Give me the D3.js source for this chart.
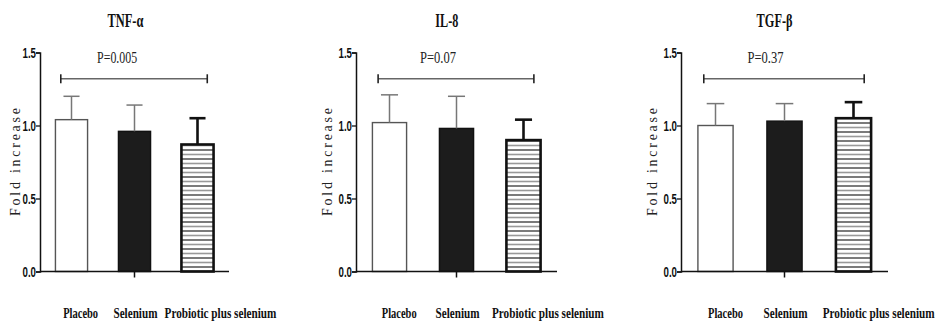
<!DOCTYPE html>
<html>
<head>
<meta charset="utf-8">
<script src="https://cdn.jsdelivr.net/npm/d3@7"></script>
<style>
  body { margin: 0; background: #fff; }
  svg { display: block; }
</style>
</head>
<body>
<div id="chart"></div>
<script>
// categories and values
const categories = ["Placebo", "Selenium", "Probiotic plus selenium"];
const titles = ["TNF-α", "IL-8", "TGF-β"];
const pLabels = ["P=0.005", "P=0.07", "P=0.37"];
const tnfMean = [1.04, 0.96, 0.87];
const tnfErr = [0.16, 0.18, 0.18];
const il8Mean = [1.02, 0.98, 0.90];
const il8Err = [0.19, 0.22, 0.14];
const tgfMean = [1.00, 1.03, 1.05];
const tgfErr = [0.15, 0.12, 0.11];
const yTicks = [0.0, 0.5, 1.0, 1.5];
const pLevel = 1.32;

const W = 942, H = 324;
const svg = d3.select("#chart").append("svg")
    .attr("width", W)
    .attr("height", H);

// stripes for the third bar
const defs = svg.append("defs");
const pat = defs.append("pattern")
    .attr("id", "stripes")
    .attr("patternUnits", "userSpaceOnUse")
    .attr("width", 8)
    .attr("height", 9);
pat.append("rect").attr("width", 8).attr("height", 9).attr("fill", "#fff");
pat.append("line").attr("x1", 0).attr("x2", 8).attr("y1", 1.5).attr("y2", 1.5)
    .attr("stroke", "#999").attr("stroke-width", 1.6);
pat.append("line").attr("x1", 0).attr("x2", 8).attr("y1", 6).attr("y2", 6)
    .attr("stroke", "#222").attr("stroke-width", 1.2);

const y = d3.scaleLinear().domain([0, 1.5]).range([271.5, 52.5]);

// the original fonts are condensed: put a text at (x,y) and squeeze it to width w
function squeezed(parent, str, x, yy, w, font) {
    const t = parent.append("text")
        .attr("text-anchor", font.anchor || "middle")
        .attr("font-family", font.family)
        .attr("font-weight", font.weight || "normal")
        .attr("font-size", font.size)
        .attr("fill", font.fill || "#111")
        .text(str);
    const k = w / t.node().getComputedTextLength();
    t.attr("transform", `translate(${x},${yy}) scale(${k},1)`);
    return t;
}

const panels = [
    { mean: tnfMean, err: tnfErr, range: [40, 229] },
    { mean: il8Mean, err: il8Err, range: [356, 557] },
    { mean: tgfMean, err: tgfErr, range: [681, 888] }
];
const catWidths = [35, 44, 112];
const titleWidths = [36, 23, 36];
const pWidths = [40, 36, 36];

const serif = "'Liberation Serif', 'Times New Roman', serif";
const sans = "'Liberation Sans', Arial, sans-serif";

panels.forEach((p, i) => {
    const x = d3.scaleBand().domain(categories).range(p.range).paddingInner(0.49).paddingOuter(0.245);
    const x0 = p.range[0], aw = p.range[1] - p.range[0];
    const g = svg.append("g");
    const rows = categories.map((c, j) => ({ cat: c, mean: p.mean[j], err: p.err[j], j: j }));

    // bars
    g.selectAll("rect.bar").data(rows).join("rect")
        .attr("class", "bar")
        .attr("x", d => x(d.cat))
        .attr("width", x.bandwidth())
        .attr("y", d => y(d.mean))
        .attr("height", d => y(0) - y(d.mean))
        .attr("fill", d => d.j === 0 ? "#fff" : d.j === 1 ? "#1c1c1c" : "url(#stripes)")
        .attr("stroke", d => d.j === 0 ? "#555" : "#111")
        .attr("stroke-width", d => d.j === 2 ? 2.6 : 1.4);

    // error bars (upper only)
    const eb = g.selectAll("g.err").data(rows).join("g").attr("class", "err")
        .attr("stroke", d => d.j === 2 ? "#111" : "#777")
        .attr("stroke-width", d => d.j === 2 ? 2.6 : 1.5);
    eb.append("line")
        .attr("x1", d => x(d.cat) + x.bandwidth() / 2)
        .attr("x2", d => x(d.cat) + x.bandwidth() / 2)
        .attr("y1", d => y(d.mean))
        .attr("y2", d => y(d.mean + d.err));
    eb.append("line")
        .attr("x1", d => x(d.cat) + x.bandwidth() / 4)
        .attr("x2", d => x(d.cat) + x.bandwidth() * 3 / 4)
        .attr("y1", d => y(d.mean + d.err))
        .attr("y2", d => y(d.mean + d.err));

    // y axis: line and ticks from d3, labels squeezed by hand
    const ya = g.append("g")
        .attr("transform", `translate(${x0},0)`)
        .call(d3.axisLeft(y).tickValues(yTicks).tickFormat("").tickSizeOuter(0).tickSize(4));
    ya.select(".domain").attr("stroke", "#111").attr("stroke-width", 1.5);
    ya.selectAll(".tick line").attr("stroke", "#111").attr("stroke-width", 1.3);
    yTicks.forEach(v => {
        squeezed(g, d3.format(".1f")(v), x0 - 4, y(v) + 5, 13.5,
            { family: sans, weight: "bold", size: 14, anchor: "end" });
    });

    // x axis baseline with one middle tick
    g.append("line")
        .attr("x1", x0).attr("x2", p.range[1])
        .attr("y1", y(0)).attr("y2", y(0))
        .attr("stroke", "#111").attr("stroke-width", 1.5);
    const mid = x(categories[1]) + x.bandwidth() / 2;
    g.append("line")
        .attr("x1", mid).attr("x2", mid)
        .attr("y1", y(0)).attr("y2", y(0) + 6)
        .attr("stroke", "#111").attr("stroke-width", 1.5);

    // category labels
    const labelPos = [0.215, 0.505, 0.955];
    categories.forEach((c, j) => {
        squeezed(g, c, x0 + aw * labelPos[j], 318, catWidths[j],
            { family: serif, weight: "bold", size: 14.5 });
    });

    // y label
    g.append("text")
        .attr("transform", `translate(${x0 - (i === 0 ? 20 : 24)},162) rotate(-90)`)
        .attr("text-anchor", "middle")
        .attr("font-family", serif).attr("font-size", 14)
        .attr("fill", "#222")
        .attr("textLength", 108).attr("lengthAdjust", "spacing")
        .text("Fold increase");

    // title
    squeezed(g, titles[i], x0 + aw * 0.452, 27, titleWidths[i],
        { family: serif, weight: "bold", size: 18 });

    // significance bracket
    const bx1 = x0 + aw * 0.11, bx2 = x0 + aw * 0.885, by = y(pLevel);
    g.append("line").attr("x1", bx1).attr("x2", bx2).attr("y1", by).attr("y2", by)
        .attr("stroke", "#666").attr("stroke-width", 1.5);
    [bx1, bx2].forEach(bx => {
        g.append("line").attr("x1", bx).attr("x2", bx).attr("y1", by - 4.5).attr("y2", by + 4.5)
            .attr("stroke", "#222").attr("stroke-width", 1.6);
    });
    squeezed(g, pLabels[i], x0 + aw * 0.408, 63, pWidths[i],
        { family: serif, size: 16.5, fill: "#222" });
});
</script>
</body>
</html>
